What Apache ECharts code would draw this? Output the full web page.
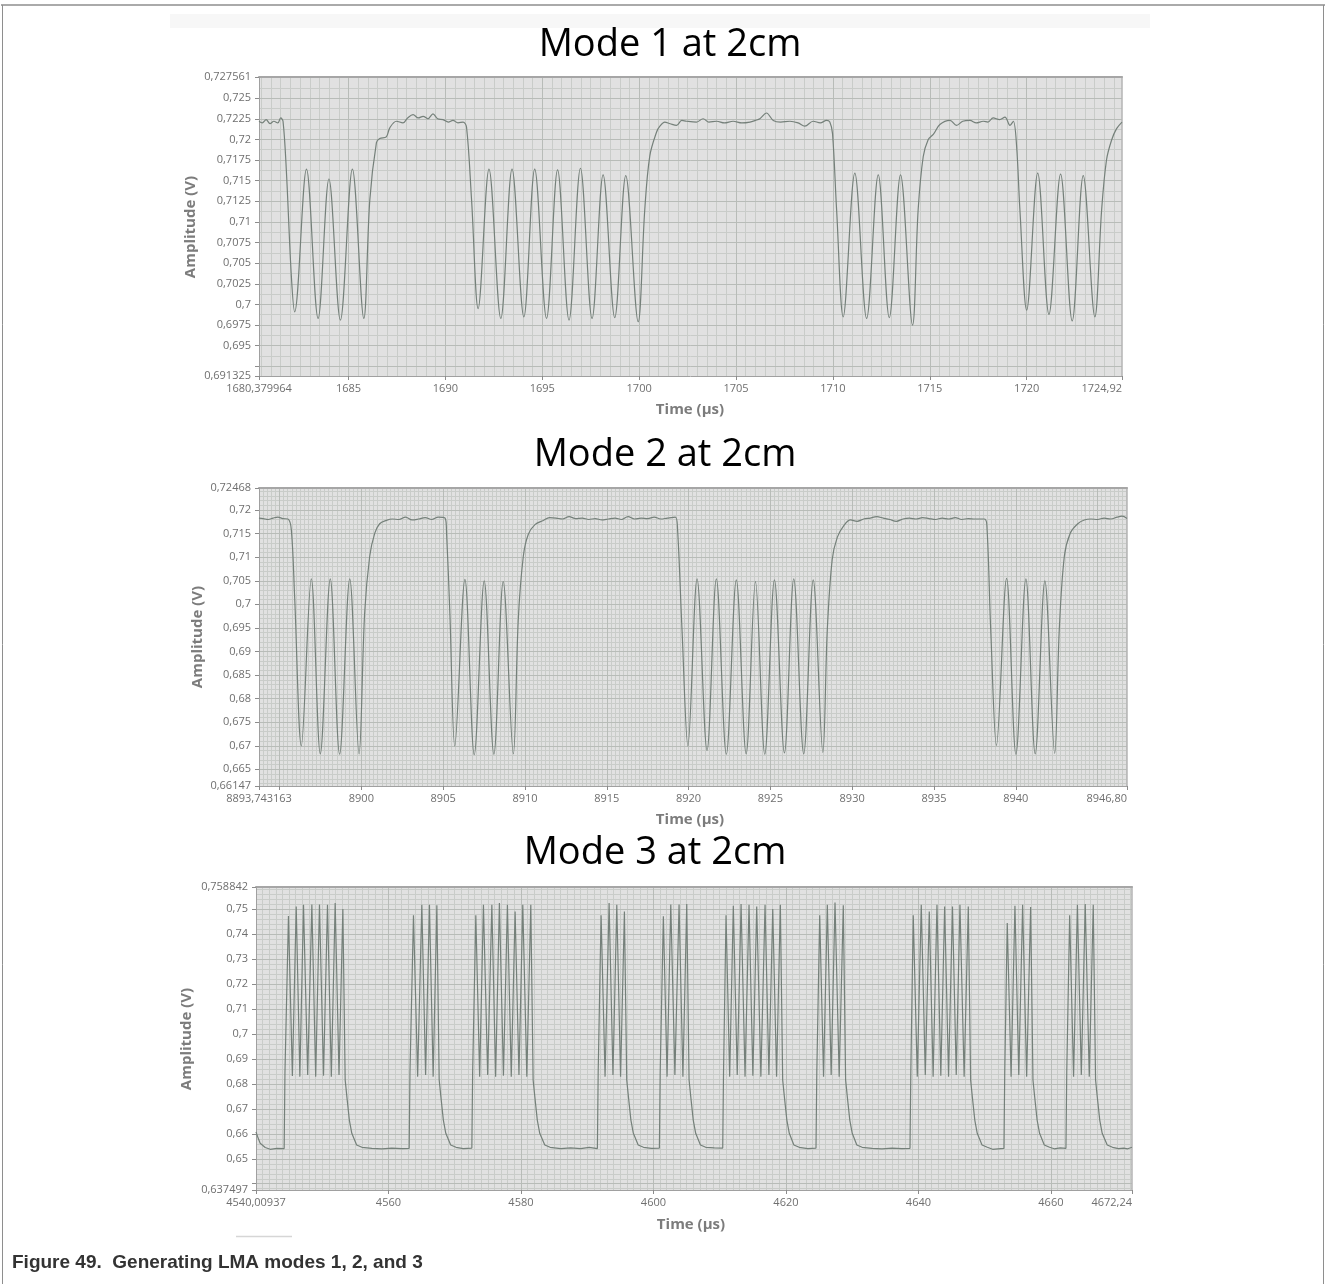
<!DOCTYPE html>
<html><head><meta charset="utf-8">
<script src="https://cdn.jsdelivr.net/npm/echarts@6.0.0/dist/echarts.min.js"></script>
<style>html,body{margin:0;padding:0;background:#fff}#c{width:1327px;height:1284px}</style>
</head><body><div id="c"></div>
<script>
// ---------------- DATA ----------------
const chartTitles = ['Mode 1 at 2cm', 'Mode 2 at 2cm', 'Mode 3 at 2cm'];
const yAxisTitle = 'Amplitude (V)';
const xAxisTitle = 'Time (\u00b5s)';
const caption = 'Figure 49.  Generating LMA modes 1, 2, and 3';

// Mode 1 axes
const mode1XRange = [1680.379964, 1724.92];
const mode1YRange = [0.691325, 0.727561];
const mode1XTicks = [1680.379964, 1685, 1690, 1695, 1700, 1705, 1710, 1715, 1720, 1724.92];
const mode1XLabels = ['1680,379964', '1685', '1690', '1695', '1700', '1705', '1710', '1715', '1720', '1724,92'];
const mode1YTicks = [0.691325, 0.6925, 0.695, 0.6975, 0.7, 0.7025, 0.705, 0.7075, 0.71, 0.7125, 0.715, 0.7175, 0.72, 0.7225, 0.725, 0.727561];
const mode1YLabels = ['0,691325', '', '0,695', '0,6975', '0,7', '0,7025', '0,705', '0,7075', '0,71', '0,7125', '0,715', '0,7175', '0,72', '0,7225', '0,725', '0,727561'];

// Mode 2 axes
const mode2XRange = [8893.743163, 8946.80];
const mode2YRange = [0.66147, 0.72468];
const mode2XTicks = [8893.743163, 8895, 8900, 8905, 8910, 8915, 8920, 8925, 8930, 8935, 8940, 8946.80];
const mode2XLabels = ['8893,743163', '', '8900', '8905', '8910', '8915', '8920', '8925', '8930', '8935', '8940', '8946,80'];
const mode2YTicks = [0.66147, 0.665, 0.67, 0.675, 0.68, 0.685, 0.69, 0.695, 0.7, 0.705, 0.71, 0.715, 0.72, 0.72468];
const mode2YLabels = ['0,66147', '0,665', '0,67', '0,675', '0,68', '0,685', '0,69', '0,695', '0,7', '0,705', '0,71', '0,715', '0,72', '0,72468'];

// Mode 3 axes
const mode3XRange = [4540.00937, 4672.24];
const mode3YRange = [0.637497, 0.758842];
const mode3XTicks = [4540.00937, 4560, 4580, 4600, 4620, 4640, 4660, 4672.24];
const mode3XLabels = ['4540,00937', '4560', '4580', '4600', '4620', '4640', '4660', '4672,24'];
const mode3YTicks = [0.637497, 0.64, 0.65, 0.66, 0.67, 0.68, 0.69, 0.7, 0.71, 0.72, 0.73, 0.74, 0.75, 0.758842];
const mode3YLabels = ['0,637497', '', '0,65', '0,66', '0,67', '0,68', '0,69', '0,7', '0,71', '0,72', '0,73', '0,74', '0,75', '0,758842'];

// Waveforms: [time (us), amplitude (V)]
const mode1Points = [
[1680.38,0.7222],[1680.55,0.7220],[1680.75,0.7224],[1680.95,0.7219],[1681.15,0.7222],[1681.35,0.7220],[1681.5,0.7226],[1681.62,0.7222],
[1681.79,0.7163],[1682.05,0.7034],[1682.22,0.6991],
[1682.83,0.7164],[1683.43,0.6983],[1683.99,0.7152],[1684.58,0.6981],[1685.2,0.7164],[1685.79,0.6983],
[1686.1,0.7127],[1686.44,0.7196],[1686.61,0.7201],[1686.95,0.7203],[1687.13,0.7214],[1687.47,0.7222],[1687.81,0.7220],[1688.05,0.7226],[1688.33,0.7230],[1688.6,0.7226],[1688.85,0.7228],[1689.1,0.7225],[1689.36,0.7231],[1689.6,0.7225],[1689.88,0.7224],[1690.15,0.7221],[1690.39,0.7223],[1690.65,0.7220],[1690.91,0.7221],
[1691.09,0.7215],[1691.35,0.7127],[1691.69,0.6995],
[1692.25,0.7164],[1692.86,0.6983],[1693.44,0.7164],[1694.05,0.6985],[1694.61,0.7164],[1695.22,0.6983],[1695.79,0.7163],[1696.38,0.6981],[1696.97,0.7165],[1697.57,0.6983],[1698.14,0.7157],[1698.74,0.6984],[1699.31,0.7156],[1699.95,0.6979],
[1700.29,0.7115],[1700.55,0.7180],[1700.9,0.7209],[1701.07,0.7216],[1701.32,0.7221],[1701.6,0.7219],[1701.93,0.7217],[1702.2,0.7223],[1702.45,0.7222],[1702.96,0.7221],[1703.3,0.7225],[1703.6,0.7221],[1704.0,0.7222],[1704.4,0.7220],[1704.85,0.7222],[1705.3,0.7220],[1705.72,0.7221],[1706.0,0.7223],[1706.23,0.7225],[1706.57,0.7232],[1706.92,0.7223],[1707.3,0.7221],[1707.78,0.7222],[1708.2,0.7220],[1708.55,0.7216],[1708.98,0.7222],[1709.35,0.7220],[1709.67,0.7223],[1709.84,0.7221],
[1709.98,0.7207],[1710.19,0.7115],[1710.53,0.6985],
[1711.13,0.7159],[1711.74,0.6983],[1712.34,0.7157],[1712.91,0.6984],[1713.49,0.7157],[1714.11,0.6975],
[1714.4,0.7115],[1714.66,0.7179],[1714.92,0.7200],[1715.18,0.7206],[1715.52,0.7218],[1716.04,0.7223],[1716.38,0.7217],[1716.7,0.7222],[1717.07,0.7223],[1717.4,0.7220],[1717.76,0.7222],[1718.0,0.7221],[1718.27,0.7226],[1718.6,0.7224],[1718.88,0.7227],[1719.14,0.7217],[1719.31,0.7222],
[1719.48,0.7192],[1719.65,0.7115],[1720.0,0.6993],
[1720.57,0.7159],[1721.15,0.6988],[1721.75,0.7158],[1722.35,0.6980],[1722.92,0.7156],[1723.52,0.6985],
[1723.87,0.7115],[1724.12,0.7175],[1724.38,0.7199],[1724.64,0.7213],[1724.92,0.7221]
];

const mode2Points = [
[8893.74,0.7183],[8894.0,0.7182],[8894.3,0.7180],[8894.6,0.7183],[8894.9,0.7185],[8895.2,0.7182],[8895.51,0.7181],
[8895.72,0.7158],[8895.92,0.7017],[8896.33,0.6700],
[8896.94,0.7054],[8897.49,0.6683],[8898.1,0.7054],[8898.67,0.6682],[8899.29,0.7054],[8899.86,0.6683],
[8900.2,0.6981],[8900.51,0.7102],[8900.82,0.7151],[8901.12,0.7171],[8901.53,0.7178],[8901.9,0.7181],[8902.3,0.7180],[8902.7,0.7185],[8903.1,0.7179],[8903.5,0.7181],[8903.9,0.7184],[8904.3,0.7180],[8904.7,0.7185],[8905.12,0.7183],
[8905.21,0.7150],[8905.41,0.6981],[8905.71,0.6700],
[8906.33,0.7053],[8906.9,0.6681],[8907.51,0.7050],[8908.1,0.6682],[8908.67,0.7048],[8909.29,0.6683],
[8909.59,0.6967],[8909.9,0.7102],[8910.2,0.7148],[8910.61,0.7169],[8911.12,0.7178],[8911.5,0.7184],[8911.9,0.7183],[8912.3,0.7181],[8912.7,0.7186],[8913.1,0.7182],[8913.5,0.7183],[8913.9,0.7180],[8914.3,0.7182],[8914.7,0.7179],[8915.1,0.7181],[8915.5,0.7183],[8915.9,0.7180],[8916.3,0.7186],[8916.7,0.7181],[8917.1,0.7183],[8917.5,0.7182],[8917.9,0.7185],[8918.3,0.7181],[8918.7,0.7183],[8919.19,0.7185],
[8919.33,0.7158],[8919.6,0.6946],[8919.96,0.6700],
[8920.52,0.7054],[8921.13,0.6690],[8921.7,0.7054],[8922.31,0.6682],[8922.92,0.7052],[8923.52,0.6683],[8924.09,0.7048],[8924.66,0.6682],[8925.25,0.7052],[8925.86,0.6685],[8926.43,0.7054],[8927.04,0.6683],[8927.62,0.7052],[8928.21,0.6686],
[8928.48,0.6946],[8928.78,0.7095],[8929.09,0.7142],[8929.49,0.7167],[8929.9,0.7179],[8930.3,0.7176],[8930.7,0.7181],[8931.1,0.7183],[8931.5,0.7186],[8931.9,0.7183],[8932.3,0.7180],[8932.7,0.7176],[8933.1,0.7181],[8933.5,0.7183],[8933.9,0.7181],[8934.3,0.7184],[8934.7,0.7182],[8935.1,0.7180],[8935.5,0.7183],[8935.9,0.7181],[8936.3,0.7184],[8936.7,0.7180],[8937.1,0.7182],[8937.5,0.7181],[8938.06,0.7181],
[8938.23,0.7170],[8938.47,0.6946],[8938.82,0.6701],
[8939.44,0.7055],[8940.01,0.6682],[8940.62,0.7054],[8941.19,0.6683],[8941.78,0.7050],[8942.38,0.6684],
[8942.66,0.6946],[8942.97,0.7102],[8943.33,0.7151],[8943.79,0.7171],[8944.19,0.7179],[8944.6,0.7181],[8945.0,0.7180],[8945.4,0.7183],[8945.8,0.7181],[8946.2,0.7185],[8946.5,0.7187],[8946.8,0.7182]
];

const mode3Points = [
[4540.01,0.6608],[4540.24,0.6589],[4540.64,0.6562],[4541.40,0.6545],[4542.15,0.6538],[4543.16,0.6542],[4544.26,0.6541],
[4544.38,0.6845],[4544.91,0.7472],[4545.50,0.6832],[4546.08,0.7510],[4546.63,0.6829],[4547.18,0.7517],[4547.81,0.6836],[4548.44,0.7518],[4549.02,0.6829],[4549.59,0.7518],[4550.20,0.6833],[4550.80,0.7517],[4551.38,0.6829],[4551.96,0.7524],[4552.54,0.6836],[4553.12,0.7500],
[4553.47,0.6816],[4553.72,0.6750],[4554.10,0.6655],[4554.47,0.6602],[4555.20,0.6555],[4556.00,0.6546],[4557.50,0.6542],[4559.00,0.6540],[4560.50,0.6543],[4562.00,0.6541],[4563.13,0.6542],
[4563.25,0.6845],[4563.78,0.7475],[4564.41,0.6829],[4565.04,0.7517],[4565.61,0.6836],[4566.19,0.7517],[4566.75,0.6829],[4567.31,0.7515],
[4567.66,0.6816],[4567.91,0.6750],[4568.29,0.6655],[4568.66,0.6602],[4569.40,0.6555],[4570.20,0.6546],[4571.30,0.6541],[4572.59,0.6543],
[4572.71,0.6845],[4573.19,0.7475],[4573.77,0.6829],[4574.34,0.7517],[4574.98,0.6836],[4575.61,0.7517],[4576.18,0.6829],[4576.75,0.7524],[4577.36,0.6833],[4577.96,0.7517],[4578.54,0.6829],[4579.12,0.7490],[4579.70,0.6836],[4580.28,0.7517],[4580.89,0.6829],[4581.49,0.7517],
[4581.84,0.6816],[4582.09,0.6750],[4582.47,0.6655],[4582.84,0.6602],[4583.60,0.6555],[4584.40,0.6546],[4586.00,0.6541],[4587.50,0.6544],[4589.00,0.6541],[4590.30,0.6546],[4591.54,0.6541],
[4591.66,0.6845],[4592.10,0.7475],[4592.70,0.6829],[4593.31,0.7524],[4593.89,0.6836],[4594.47,0.7517],[4595.04,0.6829],[4595.62,0.7490],
[4595.97,0.6816],[4596.22,0.6750],[4596.60,0.6655],[4596.97,0.6602],[4597.70,0.6555],[4598.50,0.6546],[4599.70,0.6542],[4600.90,0.6543],
[4601.02,0.6845],[4601.50,0.7471],[4602.06,0.6829],[4602.62,0.7518],[4603.24,0.6836],[4603.87,0.7518],[4604.45,0.6829],[4605.03,0.7520],
[4605.38,0.6816],[4605.63,0.6750],[4606.01,0.6655],[4606.38,0.6602],[4607.10,0.6555],[4607.90,0.6546],[4609.20,0.6544],[4610.46,0.6543],
[4610.58,0.6845],[4610.96,0.7475],[4611.51,0.6829],[4612.06,0.7513],[4612.65,0.6836],[4613.23,0.7520],[4613.83,0.6829],[4614.43,0.7517],[4615.01,0.6833],[4615.59,0.7510],[4616.22,0.6829],[4616.85,0.7517],[4617.43,0.6836],[4618.01,0.7500],[4618.59,0.6829],[4619.16,0.7517],
[4619.51,0.6816],[4619.76,0.6750],[4620.14,0.6655],[4620.51,0.6602],[4621.20,0.6555],[4622.00,0.6546],[4623.30,0.6541],[4624.54,0.6543],
[4624.66,0.6845],[4625.10,0.7475],[4625.68,0.6829],[4626.25,0.7517],[4626.83,0.6836],[4627.41,0.7526],[4628.04,0.6829],[4628.66,0.7515],
[4629.01,0.6816],[4629.26,0.6750],[4629.64,0.6655],[4630.01,0.6602],[4630.70,0.6555],[4631.50,0.6546],[4633.00,0.6542],[4634.50,0.6540],[4636.00,0.6543],[4637.50,0.6541],[4638.73,0.6542],
[4638.85,0.6845],[4639.22,0.7475],[4639.83,0.6829],[4640.43,0.7517],[4641.04,0.6836],[4641.64,0.7490],[4642.22,0.6829],[4642.80,0.7517],[4643.38,0.6833],[4643.96,0.7510],[4644.55,0.6829],[4645.14,0.7510],[4645.71,0.6836],[4646.27,0.7517],[4646.90,0.6829],[4647.53,0.7510],
[4647.88,0.6816],[4648.13,0.6750],[4648.51,0.6655],[4648.88,0.6602],[4649.60,0.6555],[4650.40,0.6546],[4651.20,0.6538],[4651.50,0.6546],[4652.00,0.6540],[4652.91,0.6542],
[4653.03,0.6845],[4653.41,0.7444],[4653.99,0.6829],[4654.57,0.7513],[4655.15,0.6836],[4655.73,0.7517],[4656.34,0.6829],[4656.94,0.7508],
[4657.29,0.6816],[4657.54,0.6750],[4657.92,0.6655],[4658.29,0.6602],[4659.00,0.6555],[4659.80,0.6546],[4660.50,0.6540],[4661.40,0.6544],[4662.27,0.6542],
[4662.39,0.6845],[4662.83,0.7475],[4663.42,0.6829],[4664.00,0.7517],[4664.59,0.6836],[4665.18,0.7520],[4665.79,0.6829],[4666.39,0.7517],
[4666.74,0.6816],[4666.99,0.6750],[4667.37,0.6655],[4667.74,0.6602],[4668.50,0.6555],[4669.30,0.6546],[4670.20,0.6541],[4671.00,0.6543],[4671.60,0.6540],[4672.24,0.6546]
];

// grid line steps (minor, major) per panel
const gridSteps = [
  {x: [0.5, 5], y: [0.00125, 0.0025]},
  {x: [0.25, 5], y: [0.001, 0.005]},
  {x: [1, 20], y: [0.002, 0.01]}
];

// ---------------- LAYOUT / STYLE ----------------
const panels = [
  {grid: {left: 259, top: 77, width: 863, height: 299}, xr: mode1XRange, yr: mode1YRange, xt: mode1XTicks, xl: mode1XLabels, yt: mode1YTicks, yl: mode1YLabels, data: mode1Points, smooth: 0.35,
   title: [670, 45], ytitle: [191, 227], xtitle: [690, 410]},
  {grid: {left: 259, top: 488, width: 868, height: 298}, xr: mode2XRange, yr: mode2YRange, xt: mode2XTicks, xl: mode2XLabels, yt: mode2YTicks, yl: mode2YLabels, data: mode2Points, smooth: 0.35,
   title: [665, 455], ytitle: [198, 637], xtitle: [690, 820]},
  {grid: {left: 256, top: 887, width: 876, height: 303}, xr: mode3XRange, yr: mode3YRange, xt: mode3XTicks, xl: mode3XLabels, yt: mode3YTicks, yl: mode3YLabels, data: mode3Points, smooth: false,
   title: [655, 853], ytitle: [187, 1039], xtitle: [691, 1225]}
];

function multiples(min, max, step) {
  const out = [];
  for (let k = Math.ceil(min / step - 1e-9); k * step <= max + 1e-12; k++) out.push(+(k * step).toFixed(8));
  return out.filter(v => v > min && v < max);
}
function labelVals(ticks, labels) { return ticks.filter((t, i) => labels[i] !== ''); }
function fmt(ticks, labels) {
  return function (v) {
    for (let i = 0; i < ticks.length; i++) if (Math.abs(ticks[i] - v) < 1e-7) return labels[i];
    return String(v).replace('.', ',');
  };
}
const labelStyle = {color: '#6f6f6f', fontFamily: 'Open Sans', fontSize: 11};

const xAxes = [], yAxes = [], grids = [], series = [], graphics = [];
panels.forEach((p, gi) => {
  grids.push(Object.assign({show: true, backgroundColor: '#e1e1e1', borderWidth: 0, containLabel: false, outerBoundsMode: 'none'}, p.grid));
  const st = gridSteps[gi];
  xAxes.push({type: 'value', gridIndex: gi, min: p.xr[0], max: p.xr[1], position: 'bottom', z: 3,
    axisLine: {show: true, onZero: false, lineStyle: {color: '#a0a0a0', width: 1}},
    axisTick: {show: true, length: 4, customValues: p.xt, lineStyle: {color: '#8c8c8c'}},
    axisLabel: Object.assign({show: true, customValues: labelVals(p.xt, p.xl), formatter: fmt(p.xt, p.xl), margin: 7, alignMaxLabel: 'right'}, labelStyle),
    splitLine: {show: false}});
  xAxes.push({type: 'value', gridIndex: gi, min: p.xr[0], max: p.xr[1], position: 'top', z: 2,
    axisLine: {show: true, onZero: false, lineStyle: {color: '#a6a6a6', width: 2}},
    axisTick: {show: false, customValues: multiples(p.xr[0], p.xr[1], st.x[1])},
    axisLabel: {show: false}, splitLine: {show: true, lineStyle: {color: '#b8bcb8', width: 1}}});
  xAxes.push({type: 'value', gridIndex: gi, min: p.xr[0], max: p.xr[1], position: 'bottom', z: 1,
    axisLine: {show: false}, axisTick: {show: false, customValues: multiples(p.xr[0], p.xr[1], st.x[0])},
    axisLabel: {show: false}, splitLine: {show: true, lineStyle: {color: '#c9ccc9', width: 1}}});
  yAxes.push({type: 'value', gridIndex: gi, min: p.yr[0], max: p.yr[1], position: 'left', z: 3,
    axisLine: {show: true, onZero: false, lineStyle: {color: '#a0a0a0', width: 1}},
    axisTick: {show: true, length: 4, customValues: p.yt, lineStyle: {color: '#8c8c8c'}},
    axisLabel: Object.assign({show: true, customValues: labelVals(p.yt, p.yl), formatter: fmt(p.yt, p.yl), margin: 8}, labelStyle),
    splitLine: {show: false}});
  yAxes.push({type: 'value', gridIndex: gi, min: p.yr[0], max: p.yr[1], position: 'right', z: 2,
    axisLine: {show: true, onZero: false, lineStyle: {color: '#b4b4b4', width: 1.5}},
    axisTick: {show: false, customValues: multiples(p.yr[0], p.yr[1], st.y[1])},
    axisLabel: {show: false}, splitLine: {show: true, lineStyle: {color: '#b8bcb8', width: 1}}});
  yAxes.push({type: 'value', gridIndex: gi, min: p.yr[0], max: p.yr[1], position: 'left', z: 1,
    axisLine: {show: false}, axisTick: {show: false, customValues: multiples(p.yr[0], p.yr[1], st.y[0])},
    axisLabel: {show: false}, splitLine: {show: true, lineStyle: {color: '#c9ccc9', width: 1}}});

  series.push({type: 'line', xAxisIndex: gi * 3, yAxisIndex: gi * 3, data: p.data, showSymbol: false, symbol: 'none',
    smooth: p.smooth, z: 5, clip: true, lineStyle: {color: '#75807a', width: 1.2}, animation: false});

  graphics.push({type: 'text', x: p.title[0], y: p.title[1], style: {text: chartTitles[gi], fill: '#000', font: '38px "Open Sans"', textAlign: 'center', textVerticalAlign: 'middle', align: 'center', verticalAlign: 'middle'}});
  graphics.push({type: 'text', x: p.ytitle[0], y: p.ytitle[1], rotation: Math.PI / 2, style: {text: yAxisTitle, fill: '#7c7c7c', font: 'bold 15px "Open Sans"', textAlign: 'center', textVerticalAlign: 'middle', align: 'center', verticalAlign: 'middle'}});
  graphics.push({type: 'text', x: p.xtitle[0], y: p.xtitle[1], style: {text: xAxisTitle, fill: '#7c7c7c', font: 'bold 15px "Open Sans"', textAlign: 'center', textVerticalAlign: 'middle', align: 'center', verticalAlign: 'middle'}});
});

graphics.push({type: 'rect', shape: {x: 170, y: 14, width: 980, height: 14}, style: {fill: '#f7f7f7'}, z: -1});
graphics.push({type: 'line', shape: {x1: 1, y1: 5, x2: 1325, y2: 5}, style: {stroke: '#8e8e8e', lineWidth: 1.5}});
graphics.push({type: 'line', shape: {x1: 2.5, y1: 5, x2: 2.5, y2: 1284}, style: {stroke: '#8e8e8e', lineWidth: 1}});
graphics.push({type: 'line', shape: {x1: 1323.5, y1: 5, x2: 1323.5, y2: 1284}, style: {stroke: '#8e8e8e', lineWidth: 1}});
graphics.push({type: 'line', shape: {x1: 236, y1: 1236.5, x2: 292, y2: 1236.5}, style: {stroke: '#d6d6d6', lineWidth: 1.5}});
graphics.push({type: 'text', x: 12, y: 1263, style: {text: caption, fill: '#333333', font: 'bold 19px "Liberation Sans", Arial, sans-serif', textAlign: 'left', textVerticalAlign: 'middle', align: 'left', verticalAlign: 'middle'}});

const chart = echarts.init(document.getElementById('c'), null, {renderer: 'canvas'});
chart.setOption({
  backgroundColor: '#ffffff',
  animation: false,
  grid: grids,
  xAxis: xAxes,
  yAxis: yAxes,
  series: series,
  graphic: graphics
});
</script></body></html>
